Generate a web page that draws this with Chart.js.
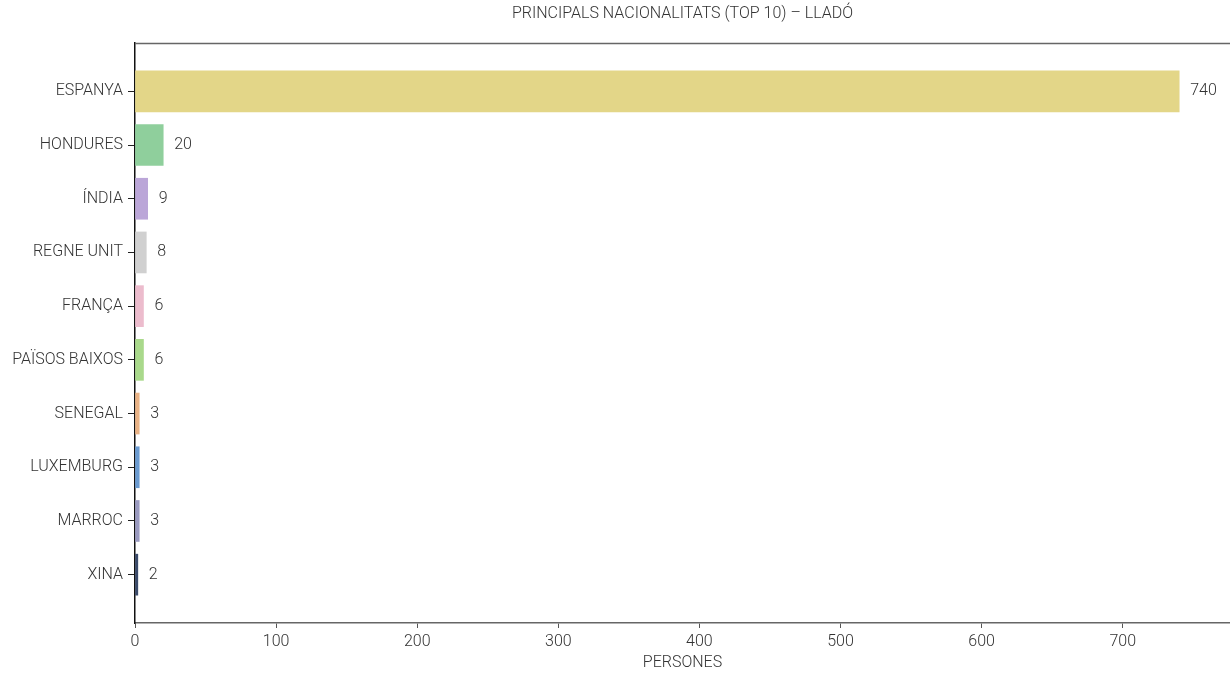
<!DOCTYPE html>
<html>
<head>
<meta charset="utf-8">
<script src="https://cdn.jsdelivr.net/npm/chart.js@4"></script>
<style>
html,body{margin:0;padding:0;background:#fff;}
#wrap{width:1230px;height:673px;position:relative;}
</style>
</head>
<body>
<div id="wrap"><canvas id="c" width="1230" height="673"></canvas></div>
<script>
const categories = ["ESPANYA","HONDURES","ÍNDIA","REGNE UNIT","FRANÇA","PAÏSOS BAIXOS","SENEGAL","LUXEMBURG","MARROC","XINA"];
const values = [740, 20, 9, 8, 6, 6, 3, 3, 3, 2];
const xTicks = [0, 100, 200, 300, 400, 500, 600, 700];
const colors = ["#e3d688","#8fcf9c","#bba6d8","#d0d0d0","#ecbccd","#a9d98b","#e9b285","#6b9bd1","#9a9ac0","#3a4a6a"];
const titleText = "PRINCIPALS NACIONALITATS (TOP 10) – LLADÓ";
const xTitle = "PERSONES";

const FONT = "Roboto, 'Open Sans', sans-serif";

const extras = {
  id: 'extras',
  afterDatasetsDraw(chart) {
    const ctx = chart.ctx;
    const meta = chart.getDatasetMeta(0);
    ctx.save();
    ctx.font = "300 16px " + FONT;
    ctx.fillStyle = "#333";
    ctx.textAlign = "left";
    ctx.textBaseline = "middle";
    meta.data.forEach((el, i) => {
      ctx.fillText(String(values[i]), el.x + 11, el.y);
    });
    ctx.restore();
  },
  afterDraw(chart) {
    const ctx = chart.ctx;
    const a = chart.chartArea;
    ctx.save();
    ctx.strokeStyle = "#666";
    ctx.lineWidth = 1.5;
    ctx.beginPath();
    ctx.moveTo(a.left, a.top + 0.5);
    ctx.lineTo(a.right, a.top + 0.5);
    ctx.stroke();
    ctx.font = "300 16px " + FONT;
    ctx.fillStyle = "#333";
    ctx.textAlign = "center";
    ctx.textBaseline = "middle";
    ctx.fillText(titleText, (a.left + a.right) / 2, 14);
    ctx.restore();
  }
};

new Chart(document.getElementById('c'), {
  type: 'bar',
  data: {
    datasets: [{
      data: values.map((v, i) => ({x: v, y: i})),
      backgroundColor: colors,
      borderWidth: 0,
      barThickness: 41
    }]
  },
  options: {
    responsive: false,
    animation: false,
    indexAxis: 'y',
    layout: {padding: {top: 43, right: 0, left: 0, bottom: 0}},
    plugins: {legend: {display: false}, tooltip: {enabled: false}, title: {display: false}},
    scales: {
      x: {
        type: 'linear',
        min: 0,
        max: 776,
        afterBuildTicks(scale) { scale.ticks = xTicks.map(v => ({value: v})); },
        afterFit(scale) { scale.height = 50; },
        grid: {drawOnChartArea: false, drawTicks: true, tickLength: 5, color: "#555", lineWidth: 1, offset: false},
        border: {display: true, color: "#666", width: 1.5},
        ticks: {font: {family: FONT, size: 16, weight: 300}, color: "#333", padding: 4, maxRotation: 0},
        title: {display: true, text: xTitle, font: {family: FONT, size: 16, weight: 300}, color: "#333", padding: {top: 0, bottom: 0}}
      },
      y: {
        type: 'linear',
        reverse: true,
        offset: false,
        min: -0.9,
        max: 9.9,
        afterBuildTicks(scale) { scale.ticks = categories.map((c, i) => ({value: i})); },
        afterFit(scale) { scale.width = 135; },
        grid: {drawOnChartArea: false, drawTicks: true, tickLength: 7, color: "#222", lineWidth: 1, offset: false},
        border: {display: true, color: "#111", width: 1.5},
        ticks: {font: {family: FONT, size: 16, weight: 300}, color: "#333", padding: 5, autoSkip: false,
          callback: (v) => categories[v] !== undefined ? categories[v] : ''}
      }
    }
  },
  plugins: [extras]
});
</script>
</body>
</html>
